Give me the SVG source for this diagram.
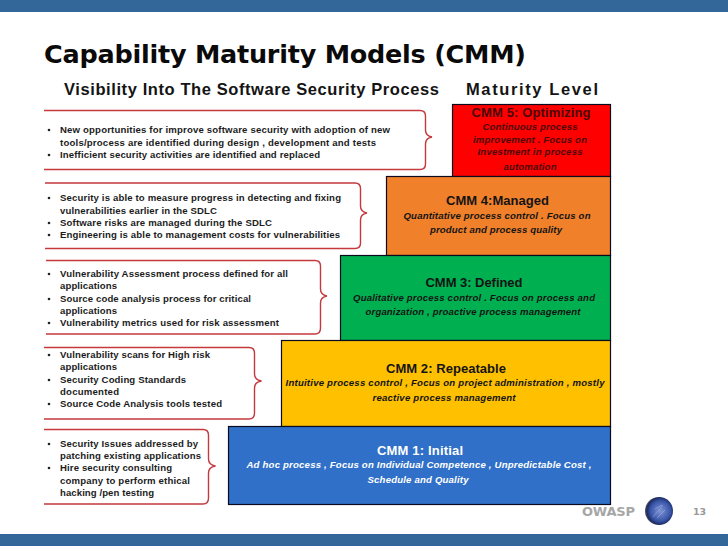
<svg xmlns="http://www.w3.org/2000/svg" width="728" height="546" viewBox="0 0 728 546">
<defs>
<radialGradient id="orb" cx="0.55" cy="0.5" r="0.55"><stop offset="0" stop-color="#7f95d6"/><stop offset="0.65" stop-color="#3a55a8"/><stop offset="0.88" stop-color="#1c2c66"/><stop offset="1" stop-color="#5a5a5a"/></radialGradient>
</defs>
<style>
text{font-family:"Liberation Sans",Arial,sans-serif;font-weight:700;fill:#141414}
.title{font-family:"DejaVu Sans",Verdana,sans-serif;font-size:25.5px;fill:#0a0a0a}
.sub{font-size:16.5px}
.b{font-size:9.6px;fill:#1c1c1c}
.dot{fill:#222}
.h{font-size:13px;text-anchor:middle}
.d{font-size:9.6px;font-style:italic;text-anchor:middle}
.level{stroke:#0a0a1e;stroke-width:1.2}
.br{fill:none;stroke:#c5383c;stroke-width:1.4}
.bar{fill:#336699}
.red{fill:#4a0808}
.wh{fill:#fff}
</style>
<rect class="bar" x="0" y="0" width="728" height="12"/>
<rect class="bar" x="0" y="534" width="728" height="12"/>
<text class="title" x="44" y="63" textLength="482">Capability Maturity Models (CMM)</text>
<text class="sub" x="64" y="95" textLength="375">Visibility Into The Software Security Process</text>
<text class="sub" x="466" y="95" textLength="132">Maturity Level</text>

<g id="cmm5"><rect class="level" x="452.500" y="104.500" width="158" height="72" fill="#ff0000"/>
<text class="h red" x="531" y="117" textLength="119">CMM 5: Optimizing</text>
<text class="d red" x="530" y="130" textLength="95">Continuous process</text>
<text class="d red" x="530" y="143" textLength="114">improvement . Focus on</text>
<text class="d red" x="530" y="155" textLength="105">Investment in process</text>
<text class="d red" x="530" y="170" textLength="53">automation</text></g>

<g id="cmm4"><rect class="level" x="386.500" y="176.500" width="224" height="79" fill="#f0802a"/>
<text class="h" x="497.500" y="205" textLength="103">CMM 4:Managed</text>
<text class="d" x="497" y="219" textLength="187">Quantitative process control . Focus on</text>
<text class="d" x="496" y="233" textLength="132">product and process quality</text></g>

<g id="cmm3"><rect class="level" x="340.500" y="255.500" width="270" height="85" fill="#00b050"/>
<text class="h" x="474" y="287" textLength="97">CMM 3: Defined</text>
<text class="d" x="474" y="301" textLength="242">Qualitative process control . Focus on process and</text>
<text class="d" x="473" y="315" textLength="215">organization , proactive process management</text></g>

<g id="cmm2"><rect class="level" x="281.500" y="340.500" width="329" height="86" fill="#ffc000"/>
<text class="h" x="446" y="373" textLength="120">CMM 2: Repeatable</text>
<text class="d" x="445" y="386" textLength="319">Intuitive process control , Focus on project administration , mostly</text>
<text class="d" x="444" y="401" textLength="143">reactive process management</text></g>

<g id="cmm1"><rect class="level" x="228.500" y="426.500" width="382" height="78" fill="#3070c8"/>
<text class="h wh" x="420" y="455" textLength="86">CMM 1: Initial</text>
<text class="d wh" x="419" y="468" textLength="345">Ad hoc process , Focus on Individual Competence , Unpredictable Cost ,</text>
<text class="d wh" x="418" y="483" textLength="101">Schedule and Quality</text></g>

<g id="connectors">
<path class="br" d="M44 110.500H420Q425.500 110.500 425.500 116V130Q425.500 136 432 137Q425.500 138 425.500 144V164Q425.500 169.500 420 169.500H44"/>
<path class="br" d="M45 183H355Q360.500 183 360.500 188.500V206Q360.500 212 367 213Q360.500 214 360.500 220V243Q360.500 248.500 355 248.500H45"/>
<path class="br" d="M46 260.500H315Q320.500 260.500 320.500 266V289Q320.500 295 327 296Q320.500 297 320.500 303V328Q320.500 334 315 334H46"/>
<path class="br" d="M44 347.500H249Q254.500 347.500 254.500 353V374Q254.500 380 261.500 381Q254.500 382 254.500 388V413Q254.500 419 249 419H44"/>
<path class="br" d="M44 429.500H203Q208.500 429.500 208.500 435V459Q208.500 465 215.500 466Q208.500 467 208.500 473V498Q208.500 504 203 504H44"/>
</g>

<g id="list5">
<circle class="dot" cx="49" cy="130" r="1.300"/><text class="b" x="60" y="133" textLength="330">New opportunities for improve software security with adoption of new</text>
<text class="b" x="60" y="146" textLength="316">tools/process are identified during design   , development and tests</text>
<circle class="dot" cx="49" cy="155" r="1.300"/><text class="b" x="60" y="158" textLength="260">Inefficient security activities are identified and replaced</text>
</g>
<g id="list4">
<circle class="dot" cx="49" cy="198" r="1.300"/><text class="b" x="60" y="201" textLength="281">Security is able to measure progress in detecting and fixing</text>
<text class="b" x="60" y="214" textLength="157">vulnerabilities earlier in the SDLC</text>
<circle class="dot" cx="49" cy="223" r="1.300"/><text class="b" x="60" y="226" textLength="212">Software risks are managed during the SDLC</text>
<circle class="dot" cx="49" cy="235" r="1.300"/><text class="b" x="60" y="238" textLength="280">Engineering is able to management costs for vulnerabilities</text>
</g>
<g id="list3">
<circle class="dot" cx="49" cy="274" r="1.300"/><text class="b" x="60" y="277" textLength="228">Vulnerability Assessment process defined for all</text>
<text class="b" x="60" y="289" textLength="57">applications</text>
<circle class="dot" cx="49" cy="299" r="1.300"/><text class="b" x="60" y="302" textLength="191">Source code analysis process for critical</text>
<text class="b" x="60" y="314" textLength="57">applications</text>
<circle class="dot" cx="49" cy="323" r="1.300"/><text class="b" x="60" y="326" textLength="219">Vulnerability metrics used for risk assessment</text>
</g>
<g id="list2">
<circle class="dot" cx="49" cy="355" r="1.300"/><text class="b" x="60" y="358" textLength="150">Vulnerability scans for High risk</text>
<text class="b" x="60" y="370" textLength="57">applications</text>
<circle class="dot" cx="49" cy="380" r="1.300"/><text class="b" x="60" y="383" textLength="126">Security Coding Standards</text>
<text class="b" x="60" y="395" textLength="59">documented</text>
<circle class="dot" cx="49" cy="404" r="1.300"/><text class="b" x="60" y="407" textLength="162">Source Code Analysis tools tested</text>
</g>
<g id="list1">
<circle class="dot" cx="49" cy="444" r="1.300"/><text class="b" x="60" y="447" textLength="138">Security Issues addressed by</text>
<text class="b" x="60" y="459" textLength="141">patching existing applications</text>
<circle class="dot" cx="49" cy="468" r="1.300"/><text class="b" x="60" y="471" textLength="112">Hire security consulting</text>
<text class="b" x="60" y="484" textLength="130">company to perform ethical</text>
<text class="b" x="60" y="496" textLength="94">hacking /pen testing</text>
</g>
<g id="footer">
<text x="582" y="516" style="font-family:'DejaVu Sans',Verdana,sans-serif;font-size:13px;fill:#a6a6a6" textLength="53">OWASP</text>
<circle cx="659" cy="511" r="14" fill="url(#orb)"/>
<path d="M653 517L663 505M657 518L665 510M655 509L662 505" fill="none" stroke="#9fb0e0" stroke-width="0.8" opacity="0.7"/>
<text x="693" y="515" style="font-family:'DejaVu Sans',Verdana,sans-serif;font-size:9.500px;fill:#999" textLength="13">13</text>
</g>
</svg>
